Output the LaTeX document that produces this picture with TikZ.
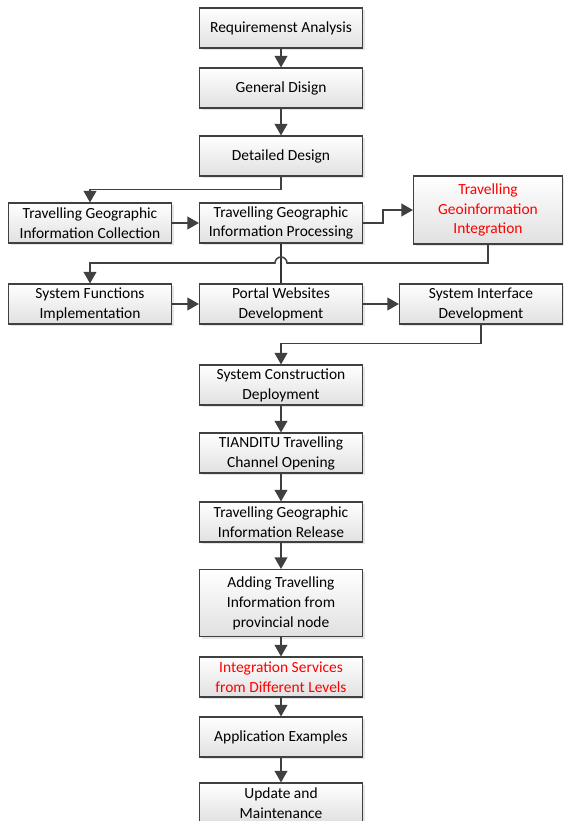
\documentclass[tikz,border=0pt]{standalone}
\usepackage{fontspec}
\setmainfont{Carlito}
\usetikzlibrary{arrows.meta, calc, shadows}

\begin{document}
\begin{tikzpicture}[x=0.03cm, y=-0.03cm, thick,
    box/.style={draw=black!75, line width=0.9pt, top color=white, bottom color=black!12,
      minimum width=4.89cm, minimum height=1.2cm, align=center, inner sep=1pt,
      font=\fontsize{13.2}{17}\selectfont,
      drop shadow={shadow xshift=2pt, shadow yshift=-2pt, opacity=0.25, fill=black!40}},
    redbox/.style={box, text=red},
    arr/.style={draw=black!75, line width=1.3pt, -{Triangle[length=10pt, width=11pt]}},
    link/.style={draw=black!80, line width=1.3pt}]
    \useasboundingbox (0,0) rectangle (563,821);
    \coordinate (A) at (281,28); \coordinate (B) at (281,88); \coordinate (C) at (281,156);
    \node[box] (req) at (A) {Requiremenst Analysis};
    \node[box] (gen) at (B) {General Disign};
    \node[box] (det) at (C) {Detailed Design};
    \node[box] (col) at (90,223) {Travelling Geographic\\Information Collection};
    \node[box] (pro) at (281,223) {Travelling Geographic\\Information Processing};
    \node[redbox, minimum width=4.47cm, minimum height=2.04cm] (int) at (488,210) {Travelling\\Geoinformation\\Integration};
    \node[box] (fun) at (90,304) {System Functions\\Implementation};
    \node[box] (por) at (281,304) {Portal Websites\\Development};
    \node[box] (sif) at (481,304) {System Interface\\Development};
    \node[box] (con) at (281,385) {System Construction\\Deployment};
    \node[box] (tia) at (281,453) {TIANDITU Travelling\\Channel Opening};
    \node[box] (rel) at (281,522) {Travelling Geographic\\Information Release};
    \node[box, minimum height=2.01cm] (add) at (281,603) {Adding Travelling\\Information from\\provincial node};
    \node[redbox] (ser) at (281,677) {Integration Services\\from Different Levels};
    \node[box] (app) at (281,737) {Application Examples};
    \node[box] (upd) at (281,803) {Update and\\Maintenance};
    \coordinate (hop) at (281,263);
    \draw[arr] (req) -- (gen);
    \draw[arr] (gen) -- (det);
    \draw[arr] (det.south) -- ++(0,13) -| (col.north);
    \draw[arr] (col) -- (pro);
    \draw[arr] (pro.east) -- ++(20,0) |- (int.west);
    \draw[link] (pro) -- (por);
    \draw[arr] (int.south) -- (int.south |- hop) -- ($(hop)+(6,0)$) arc[start angle=0, end angle=180, radius=0.18cm] -| (fun.north);
    \draw[arr] (fun) -- (por);
    \draw[arr] (por) -- (sif);
    \draw[arr] (sif.south) -- ++(0,19) -| (con.north);
    \draw[arr] (con) -- (tia);
    \draw[arr] (tia) -- (rel);
    \draw[arr] (rel) -- (add);
    \draw[arr] (add) -- (ser);
    \draw[arr] (ser) -- (app);
    \draw[arr] (app) -- (upd);
\end{tikzpicture}
\end{document}
